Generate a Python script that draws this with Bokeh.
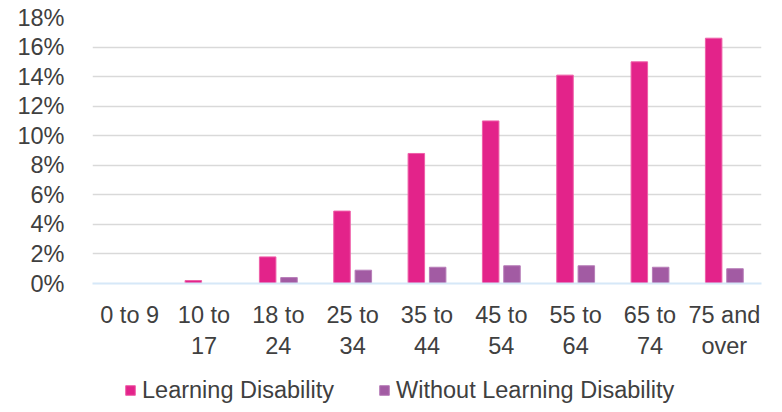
from bokeh.plotting import figure
from bokeh.models import ColumnDataSource, FactorRange, Legend, LegendItem, NumeralTickFormatter, FixedTicker, Range1d
from bokeh.layouts import column
from bokeh.transform import dodge
from bokeh.embed import file_html
from bokeh.resources import INLINE

categories = ["0 to 9", "10 to\n17", "18 to\n24", "25 to\n34", "35 to\n44",
              "45 to\n54", "55 to\n64", "65 to\n74", "75 and\nover"]
learning_disability = [0.0, 0.2, 1.8, 4.9, 8.8, 11.0, 14.1, 15.0, 16.6]
without_learning_disability = [0.0, 0.0, 0.4, 0.9, 1.1, 1.2, 1.2, 1.1, 1.0]
series_names = ["Learning Disability", "Without Learning Disability"]
y_ticks = [0, 2, 4, 6, 8, 10, 12, 14, 16, 18]

src = ColumnDataSource(dict(cat=categories,
                            ld=[v / 100 for v in learning_disability],
                            wld=[v / 100 for v in without_learning_disability]))

FONT = "Liberation Sans"
TXT = "#404040"
FS = "23.5px"
C1, L1 = "#E3238A", "#EE5FA8"
C2, L2 = "#A25BA3", "#B77DB8"

p = figure(x_range=FactorRange(*categories, range_padding=0), y_range=(0, 0.18),
           frame_width=669, frame_height=266,
           min_border_left=92, min_border_right=21, min_border_top=17, min_border_bottom=80,
           output_backend="svg", toolbar_location=None)
p.outline_line_color = None
p.background_fill_color = "white"
p.border_fill_color = "white"

p.vbar(x=dodge("cat", -0.1435, range=p.x_range), top="ld", width=0.222, source=src,
       fill_color=C1, line_color=L1, line_width=1)
p.vbar(x=dodge("cat", 0.1435, range=p.x_range), top="wld", width=0.222, source=src,
       fill_color=C2, line_color=L2, line_width=1)

p.yaxis.ticker = FixedTicker(ticks=[t / 100 for t in y_ticks])
p.yaxis.formatter = NumeralTickFormatter(format="0%")
p.yaxis.axis_line_color = None
p.yaxis.major_tick_line_color = None
p.yaxis.minor_tick_line_color = None
p.yaxis.major_label_standoff = 22
p.yaxis.major_label_text_font = FONT
p.yaxis.major_label_text_font_size = FS
p.yaxis.major_label_text_color = TXT

p.xaxis.axis_line_color = "#D6E8F8"
p.xaxis.axis_line_width = 2
p.xaxis.major_tick_line_color = None
p.xaxis.minor_tick_line_color = None
p.xaxis.major_label_standoff = 12
p.xaxis.major_label_text_font = FONT
p.xaxis.major_label_text_font_size = FS
p.xaxis.major_label_text_color = TXT
p.xaxis.major_label_text_line_height = 1.2

p.xgrid.grid_line_color = None
p.ygrid.grid_line_color = "#D9D9D9"
p.ygrid.grid_line_width = 1.5
p.ygrid.ticker = FixedTicker(ticks=[t / 100 for t in y_ticks if t > 0])

# legend strip below the chart (frame aligned with the chart frame)
lf = figure(frame_width=669, frame_height=49, x_range=Range1d(0, 669), y_range=Range1d(0, 49),
            min_border_left=92, min_border_right=21, min_border_top=0, min_border_bottom=0,
            x_axis_location=None, y_axis_location=None,
            output_backend="svg", toolbar_location=None)
lf.outline_line_color = None
lf.xgrid.grid_line_color = None
lf.ygrid.grid_line_color = None
lf.border_fill_color = "white"
dummy = ColumnDataSource(dict(x=[-1000], top=[0]))
g1 = lf.vbar(x="x", top="top", width=1, source=dummy, fill_color=C1, line_color=L1)
g2 = lf.vbar(x="x", top="top", width=1, source=dummy, fill_color=C2, line_color=L2)

legend = Legend(items=[LegendItem(label=series_names[0], renderers=[g1]),
                       LegendItem(label=series_names[1], renderers=[g2])],
                location=(32, 8), orientation="horizontal",
                border_line_color=None, background_fill_alpha=0,
                padding=0, margin=0, spacing=44, label_standoff=6,
                glyph_width=12, glyph_height=12, label_height=28,
                label_text_font=FONT, label_text_font_size=FS, label_text_color=TXT)
lf.add_layout(legend, "center")

layout = column(p, lf, spacing=0)
open("out.html", "w").write(file_html(layout, INLINE))
